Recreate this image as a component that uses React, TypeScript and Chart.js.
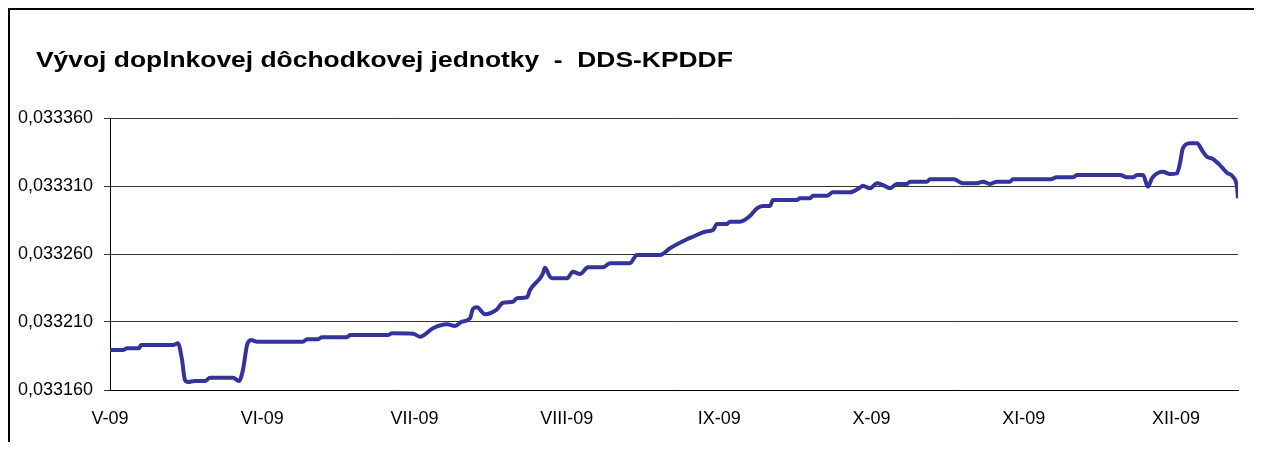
import React, { useEffect, useRef } from "react";
import { Chart, registerables } from "chart.js";

Chart.register(...registerables);

const TITLE = "Vývoj doplnkovej dôchodkovej jednotky  -  DDS-KPDDF";
const monthLabels = ["V-09", "VI-09", "VII-09", "VIII-09", "IX-09", "X-09", "XI-09", "XII-09"];
const yTicks = [0.03316, 0.03321, 0.03326, 0.03331, 0.03336];
const xMax = 7.407;

// position in months counted from the start of V-09
const monthPos = [
  0, 0.085, 0.112, 0.19, 0.204, 0.414, 0.446, 0.473, 0.492, 0.512,
  0.558, 0.624, 0.657, 0.808, 0.847, 0.873, 0.9, 0.926, 0.965, 1.267,
  1.294, 1.366, 1.392, 1.556, 1.576, 1.825, 1.852, 1.99, 2.035, 2.121,
  2.213, 2.265, 2.311, 2.364, 2.383, 2.41, 2.462, 2.541, 2.58, 2.646,
  2.672, 2.738, 2.758, 2.823, 2.843, 2.856, 2.889, 2.909, 3.001, 3.04,
  3.086, 3.139, 3.237, 3.283, 3.414, 3.46, 3.611, 3.677, 3.789, 3.828,
  3.907, 3.959, 3.986, 4.051, 4.071, 4.137, 4.202, 4.248, 4.288, 4.334,
  4.353, 4.511, 4.531, 4.596, 4.616, 4.708, 4.747, 4.859, 4.924, 4.944,
  4.99, 5.036, 5.076, 5.122, 5.167, 5.233, 5.253, 5.364, 5.384, 5.542,
  5.601, 5.693, 5.732, 5.778, 5.824, 5.909, 5.929, 6.172, 6.218, 6.323,
  6.349, 6.632, 6.678, 6.717, 6.743, 6.783, 6.816, 6.842, 6.875, 6.914,
  6.96, 7.006, 7.026, 7.045, 7.091, 7.137, 7.177, 7.203, 7.242, 7.288,
  7.334, 7.374, 7.4, 7.407,
];

const unitValues = [
  0.0331894, 0.0331894, 0.0331907, 0.0331907, 0.0331931, 0.0331931, 0.0331943, 0.0331821, 0.0331674, 0.0331659,
  0.0331666, 0.0331666, 0.033169, 0.033169, 0.0331666, 0.0331747, 0.0331931, 0.0331968, 0.0331955, 0.0331955,
  0.0331973, 0.0331973, 0.0331988, 0.0331988, 0.0332004, 0.0332004, 0.0332017, 0.0332014, 0.0331992, 0.0332054,
  0.0332083, 0.0332071, 0.0332102, 0.0332127, 0.0332196, 0.0332208, 0.0332157, 0.0332193, 0.0332242, 0.0332249,
  0.0332274, 0.0332282, 0.0332335, 0.0332421, 0.0332458, 0.0332499, 0.0332433, 0.0332421, 0.0332421, 0.033247,
  0.0332453, 0.0332502, 0.0332502, 0.0332532, 0.0332532, 0.0332593, 0.0332593, 0.0332642, 0.0332708, 0.0332727,
  0.0332764, 0.0332776, 0.0332821, 0.0332821, 0.0332838, 0.0332838, 0.0332879, 0.0332936, 0.0332953, 0.0332953,
  0.0332997, 0.0332997, 0.033301, 0.033301, 0.0333029, 0.0333029, 0.0333054, 0.0333054, 0.0333088, 0.0333102,
  0.0333083, 0.033312, 0.0333107, 0.0333083, 0.0333115, 0.0333115, 0.0333132, 0.0333132, 0.0333149, 0.0333149,
  0.033312, 0.033312, 0.0333132, 0.0333115, 0.0333132, 0.0333132, 0.0333149, 0.0333149, 0.0333164, 0.0333164,
  0.0333181, 0.0333181, 0.0333164, 0.0333164, 0.0333181, 0.0333181, 0.0333095, 0.0333157, 0.0333193, 0.0333205,
  0.0333188, 0.0333193, 0.0333267, 0.0333377, 0.0333414, 0.0333414, 0.0333352, 0.0333315, 0.0333299, 0.0333254,
  0.0333198, 0.0333168, 0.0333095, 0.033301,
];

const FONT = "'Liberation Sans', Arial, sans-serif";

export default function App() {
  const ref = useRef<HTMLCanvasElement | null>(null);

  useEffect(() => {
    if (!ref.current) return;
    const points = monthPos.map((x, i) => ({ x, y: unitValues[i] }));
    const chart = new Chart(ref.current, {
      type: "line",
      data: {
        datasets: [
          {
            data: points,
            borderColor: "#333399",
            borderWidth: 4,
            pointRadius: 0,
            fill: false,
            cubicInterpolationMode: "monotone",
          },
        ],
      },
      options: {
        animation: false,
        responsive: false,
        maintainAspectRatio: false,
        layout: { padding: { top: 108, right: 24, bottom: 0, left: 0 } },
        plugins: { legend: { display: false }, tooltip: { enabled: false }, title: { display: false } },
        scales: {
          x: {
            type: "linear",
            min: 0,
            max: xMax,
            afterBuildTicks: (s: any) => {
              s.ticks = monthLabels.map((_, i) => ({ value: i }));
            },
            afterFit: (s: any) => {
              s.height = 60;
            },
            grid: { display: false, drawTicks: false },
            border: { display: true, color: "#000", width: 1 },
            ticks: {
              autoSkip: false,
              maxRotation: 0,
              padding: 18,
              color: "#000",
              font: { family: FONT, size: 18 },
              callback: (v: any) => monthLabels[Math.round(Number(v))] ?? "",
            },
          },
          y: {
            type: "linear",
            min: yTicks[0],
            max: yTicks[yTicks.length - 1],
            afterBuildTicks: (s: any) => {
              s.ticks = yTicks.map((v) => ({ value: v }));
            },
            afterFit: (s: any) => {
              s.width = 100;
            },
            grid: { color: "#333", lineWidth: 1, drawTicks: true, tickLength: 6 },
            border: { display: true, color: "#000", width: 1 },
            ticks: {
              padding: 11,
              color: "#000",
              font: { family: FONT, size: 18 },
              callback: (v: any) => Number(v).toFixed(6).replace(".", ","),
            },
          },
        },
      },
    });
    return () => chart.destroy();
  }, []);

  return (
    <div
      style={{
        position: "relative",
        width: 1254,
        height: 442,
        marginBottom: -8,
        boxSizing: "border-box",
        borderTop: "2px solid #000",
        borderLeft: "2px solid #000",
        background: "#fff",
        overflow: "hidden",
      }}
    >
      <canvas
        ref={ref}
        width={1252}
        height={440}
        style={{ position: "absolute", left: 0, top: 0, width: 1252, height: 440 }}
      />
      <div
        style={{
          position: "absolute",
          left: 26,
          top: 39,
          fontFamily: FONT,
          fontWeight: "bold",
          fontSize: 22,
          lineHeight: "22px",
          whiteSpace: "pre",
          color: "#000",
          transform: "scaleX(1.2)",
          transformOrigin: "left center",
        }}
      >
        {TITLE}
      </div>
    </div>
  );
}
